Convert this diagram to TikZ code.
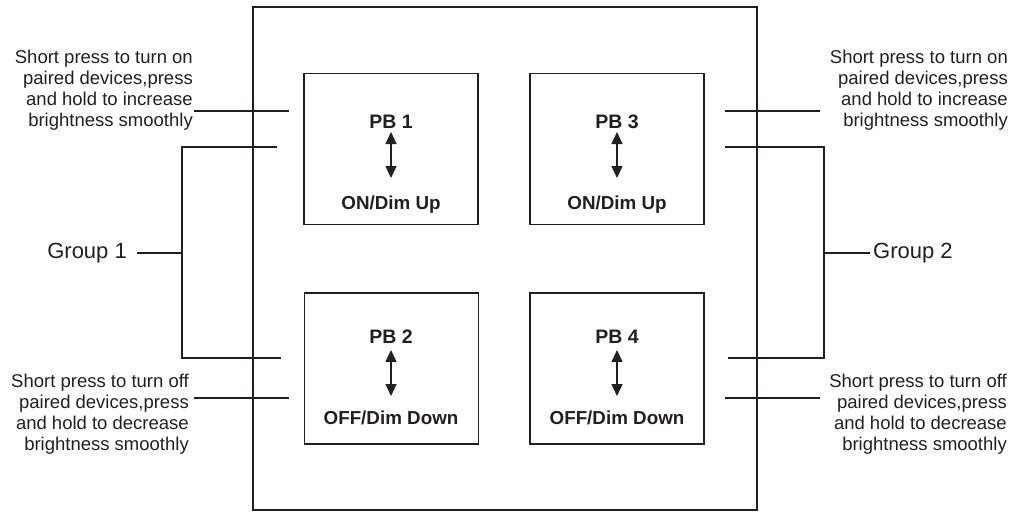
\documentclass[tikz,border=0pt]{standalone}
\usepackage{fontspec}
\setmainfont{Liberation Sans}
\usetikzlibrary{arrows.meta}
\definecolor{ink}{HTML}{231F20}
\begin{document}
\begin{tikzpicture}[x=1pt,y=-1pt,
  line/.style={draw=ink,line width=1.3pt},
  pbbox/.style={draw=ink,line width=1.3pt,minimum width=174pt,minimum height=151pt,inner sep=0pt},
  note/.style={text=ink,inner sep=0pt,align=right,font=\fontsize{18.5}{21}\selectfont},
  grp/.style={text=ink,inner sep=0pt,font=\fontsize{22}{26}\selectfont},
  pbname/.style={text=ink,inner sep=0pt,font=\fontsize{19.5}{23}\selectfont\bfseries},
  pbfun/.style={text=ink,inner sep=0pt,font=\fontsize{18.8}{22}\selectfont\bfseries},
  dbl/.style={draw=ink,line width=1.3pt,{Triangle[width=11pt,length=12pt]}-{Triangle[width=11pt,length=12pt]}}]
\useasboundingbox (0,0) rectangle (1011,511);

% panel
\node[draw=ink,line width=1.4pt,minimum width=504pt,minimum height=503pt,inner sep=0pt] (panel) at (505,258.5) {};

% push buttons
\node[pbbox] (b1) at (391,149) {};
\node[pbbox] (b3) at (617,149) {};
\node[pbbox] (b2) at (391.5,368.5) {};
\node[pbbox] (b4) at (617,368.5) {};

\node[pbname] (n1) at (391,122) {PB 1};
\node[pbname] (n3) at (617,122) {PB 3};
\node[pbname] (n2) at (391,337) {PB 2};
\node[pbname] (n4) at (617,337) {PB 4};

\node[pbfun] (f1) at (391,205) {ON/Dim Up};
\node[pbfun] (f3) at (617,205) {ON/Dim Up};
\node[pbfun] (f2) at (391,418) {OFF/Dim Down};
\node[pbfun] (f4) at (617,418) {OFF/Dim Down};

\coordinate (a1t) at (391,132); \coordinate (a1b) at (391,178);
\coordinate (a3t) at (617,132); \coordinate (a3b) at (617,178);
\coordinate (a2t) at (391,350); \coordinate (a2b) at (391,396);
\coordinate (a4t) at (617,350); \coordinate (a4b) at (617,396);
\draw[dbl] (a1t) -- (a1b);
\draw[dbl] (a3t) -- (a3b);
\draw[dbl] (a2t) -- (a2b);
\draw[dbl] (a4t) -- (a4b);

% notes
\node[note,anchor=east] (tl) at (193,90) {Short press to turn on\\paired devices,press\\and hold to increase\\brightness smoothly};
\node[note,anchor=east] (bl) at (189,414.5) {Short press to turn off\\paired devices,press\\and hold to decrease\\brightness smoothly};
\node[note,anchor=east] (tr) at (1008,90) {Short press to turn on\\paired devices,press\\and hold to increase\\brightness smoothly};
\node[note,anchor=east] (br) at (1007,414.5) {Short press to turn off\\paired devices,press\\and hold to decrease\\brightness smoothly};

\node[grp,anchor=east] (g1) at (127,253) {Group 1};
\node[grp,anchor=west] (g2) at (873,253) {Group 2};

% connector end points
\coordinate (tl1) at (194,111); \coordinate (tl2) at (289,111);
\coordinate (bl1) at (194,398); \coordinate (bl2) at (289,398);
\coordinate (tr1) at (725,111); \coordinate (tr2) at (820,111);
\coordinate (br1) at (725,398); \coordinate (br2) at (820,398);

\draw[line] (tl1) -- (tl2);
\draw[line] (bl1) -- (bl2);
\draw[line] (tr1) -- (tr2);
\draw[line] (br1) -- (br2);

% group brackets
\coordinate (g1a) at (277,147); \coordinate (g1b) at (182,147);
\coordinate (g1c) at (182,358); \coordinate (g1d) at (281,358);
\coordinate (g1m) at (182,253); \coordinate (g1s) at (137,253);
\draw[line] (g1a) -- (g1b) -- (g1c) -- (g1d);
\draw[line] (g1s) -- (g1m);

\coordinate (g2a) at (725,147); \coordinate (g2b) at (824,147);
\coordinate (g2c) at (824,358); \coordinate (g2d) at (728,358);
\coordinate (g2m) at (824,253); \coordinate (g2s) at (870,253);
\draw[line] (g2a) -- (g2b) -- (g2c) -- (g2d);
\draw[line] (g2m) -- (g2s);
\end{tikzpicture}
\end{document}
